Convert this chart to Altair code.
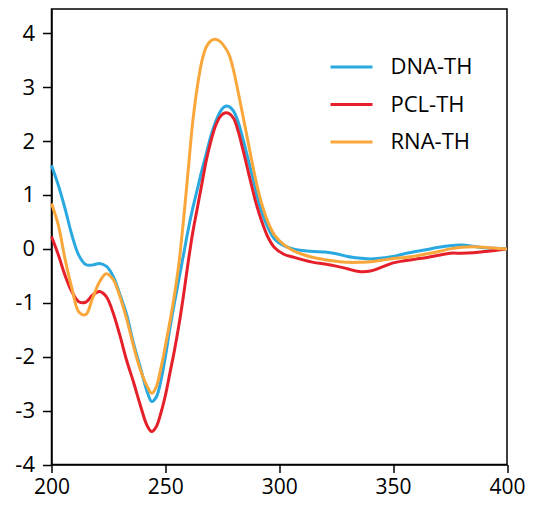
import altair as alt
import pandas as pd

wavelength = [200, 203, 206, 209, 212, 215, 218, 221, 224, 227, 230, 233, 236, 239, 242, 244,
              246, 248, 250, 252, 254, 256, 258, 260, 262, 264, 266, 268, 270, 272, 274, 276,
              278, 280, 282, 284, 286, 288, 290, 292, 295, 298, 302, 306, 310, 315, 320, 325,
              330, 335, 340, 345, 350, 355, 360, 365, 370, 375, 380, 385, 390, 395, 400]

dna_th = [1.55, 1.18, 0.74, 0.25, -0.12, -0.29, -0.30, -0.27, -0.32, -0.50, -0.84, -1.22, -1.75, -2.20, -2.65, -2.83,
          -2.75, -2.45, -2.00, -1.47, -1.00, -0.55, -0.10, 0.35, 0.75, 1.10, 1.45, 1.77, 2.10, 2.35, 2.54, 2.64,
          2.64, 2.55, 2.35, 2.05, 1.72, 1.38, 1.03, 0.72, 0.40, 0.18, 0.06, 0.00, -0.03, -0.05, -0.06, -0.09,
          -0.14, -0.17, -0.19, -0.17, -0.14, -0.09, -0.05, -0.01, 0.03, 0.06, 0.07, 0.05, 0.02, 0.01, 0.00]

pcl_th = [0.23, -0.11, -0.50, -0.80, -0.98, -0.99, -0.86, -0.79, -0.88, -1.18, -1.60, -2.07, -2.47, -2.90, -3.28, -3.39,
          -3.30, -3.05, -2.72, -2.30, -1.88, -1.40, -0.85, -0.25, 0.30, 0.75, 1.20, 1.65, 2.00, 2.28, 2.45, 2.52,
          2.51, 2.42, 2.18, 1.85, 1.50, 1.15, 0.82, 0.55, 0.22, 0.02, -0.10, -0.15, -0.20, -0.25, -0.28, -0.32,
          -0.37, -0.42, -0.41, -0.34, -0.26, -0.22, -0.19, -0.16, -0.12, -0.08, -0.08, -0.07, -0.05, -0.03, 0.00]

rna_th = [0.84, 0.44, -0.20, -0.74, -1.17, -1.22, -0.92, -0.62, -0.46, -0.56, -0.88, -1.30, -1.80, -2.24, -2.55, -2.68,
          -2.56, -2.22, -1.80, -1.35, -0.85, -0.25, 0.55, 1.45, 2.35, 3.00, 3.48, 3.75, 3.86, 3.89, 3.85, 3.75,
          3.60, 3.30, 2.90, 2.48, 2.05, 1.62, 1.22, 0.88, 0.50, 0.25, 0.08, -0.03, -0.10, -0.16, -0.20, -0.23,
          -0.25, -0.25, -0.24, -0.21, -0.18, -0.16, -0.13, -0.09, -0.05, 0.00, 0.03, 0.04, 0.03, 0.01, 0.00]

series_names = ["DNA-TH", "PCL-TH", "RNA-TH"]
series_colors = ["#29A9E0", "#E5202A", "#F9A73A"]
x_ticks = [200, 250, 300, 350, 400]
y_ticks = [-4, -3, -2, -1, 0, 1, 2, 3, 4]

rows = []
for name, vals in zip(series_names, [dna_th, pcl_th, rna_th]):
    for w, v in zip(wavelength, vals):
        rows.append({"wavelength": w, "value": v, "series": name})
df = pd.DataFrame(rows)

chart = alt.Chart(df).mark_line(strokeWidth=3, interpolate="catmull-rom").encode(
    x=alt.X("wavelength:Q",
            scale=alt.Scale(domain=[200, 400], nice=False, zero=False),
            axis=alt.Axis(values=x_ticks, title=None, grid=False, tickSize=8,
                          labelPadding=4, labelFontSize=21, labelFlush=False)),
    y=alt.Y("value:Q",
            scale=alt.Scale(domain=[-4, 4.45], nice=False, zero=False),
            axis=alt.Axis(values=y_ticks, title=None, grid=False, tickSize=9,
                          labelPadding=8, labelFontSize=22, labelFlush=False,
                          labelExpr="datum.value + ''")),
    color=alt.Color("series:N",
                    scale=alt.Scale(domain=series_names, range=series_colors),
                    legend=alt.Legend(title=None, orient="none", legendX=288, legendY=46,
                                      symbolType="M-2,0H2", symbolSize=441,
                                      symbolStrokeWidth=3, labelFontSize=22,
                                      labelOffset=27, rowPadding=14.5, padding=0,
                                      labelColor="black", labelFont="Open Sans")),
    order=alt.Order("wavelength:Q"),
).properties(
    width=455.5, height=455.5,
    autosize=alt.AutoSizeParams(type="none"),
    padding={"left": 43.5, "top": 1, "right": 18, "bottom": 35.5},
).configure_view(
    stroke="black", strokeWidth=1.5
).configure_axis(
    domainColor="black", domainWidth=1.5, tickColor="black", tickWidth=1.5,
    labelColor="black", labelFont="Open Sans"
)

chart.save("out.html", embed_options={"renderer": "svg", "actions": False})
